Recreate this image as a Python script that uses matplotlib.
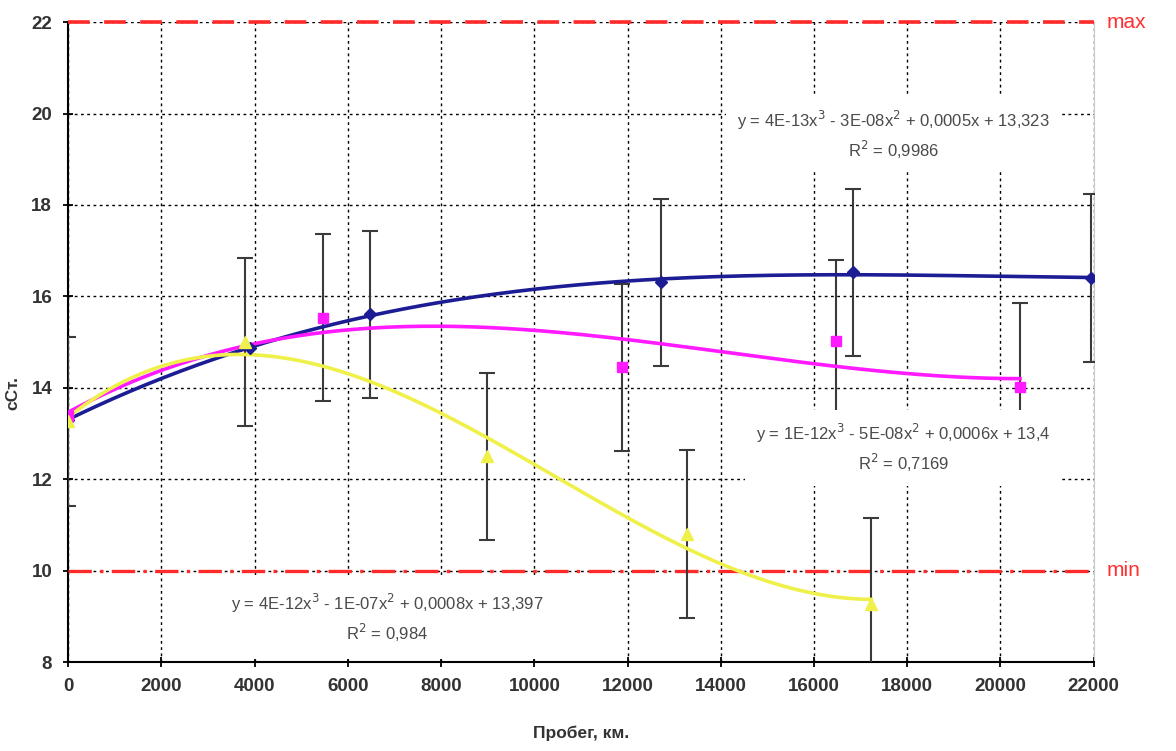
import matplotlib
matplotlib.use("Agg")
import matplotlib.pyplot as plt
import numpy as np

plt.rcParams['font.family'] = ['Liberation Sans', 'DejaVu Sans']

# blue series (diamonds)
blue_x = [0, 3900, 6465, 12720, 16830, 21950]
blue_y = [13.3, 14.88, 15.61, 16.31, 16.53, 16.40]
blue_err = [0, 0, 1.83, 1.83, 1.83, 1.83]

# magenta series (squares)
mag_x = [0, 5460, 11880, 16480, 20420]
mag_y = [13.38, 15.53, 14.45, 15.03, 14.02]
mag_err = [0, 1.83, 1.83, 1.77, 1.83]

# yellow series (triangles)
yel_x = [0, 3800, 8980, 13280, 17230]
yel_y = [13.27, 15.0, 12.5, 10.8, 9.28]
yel_err = [1.85, 1.83, 1.83, 1.83, 1.88]

max_level = 22
min_level = 10

eq_blue = "y = 4E-13x$^3$ - 3E-08x$^2$ + 0,0005x + 13,323\nR$^2$ = 0,9986"
eq_mag = "y = 1E-12x$^3$ - 5E-08x$^2$ + 0,0006x + 13,4\nR$^2$ = 0,7169"
eq_yel = "y = 4E-12x$^3$ - 1E-07x$^2$ + 0,0008x + 13,397\nR$^2$ = 0,984"

fig = plt.figure(figsize=(11.76, 7.51), dpi=100)
ax = fig.add_axes([0.058, 0.1185, 0.872, 0.852])

ax.set_xlim(0, 22000)
ax.set_ylim(8, 22)
ax.set_xticks(range(0, 22001, 2000))
ax.set_yticks(range(8, 23, 2))
ax.grid(True, color='black', linestyle=(0, (2, 2.5)), linewidth=1.0, zorder=0)
ax.set_axisbelow(True)

ax.spines['top'].set_visible(False)
ax.spines['right'].set_color('#c8c8c8')
ax.spines['left'].set_linewidth(1.5)
ax.spines['bottom'].set_linewidth(1.5)
ax.tick_params(axis='both', direction='inout', length=7, width=1.3,
               labelsize=13.5, colors='black', labelcolor='#333333', pad=8)
for lbl in ax.get_xticklabels() + ax.get_yticklabels():
    lbl.set_fontweight('bold')

# limit lines
ax.axhline(max_level, color='#ff2a2a', lw=2.6, linestyle=(0, (6, 4)), zorder=3, clip_on=False)
ax.axhline(min_level, color='#ff2a2a', lw=2.4, linestyle=(0, (7, 2.5, 1, 2.5)), zorder=3)
ax.text(1.013, max_level, 'max', transform=ax.get_yaxis_transform(), color='#ff3030',
        fontsize=15, va='center', ha='left')
ax.text(1.013, min_level, 'min', transform=ax.get_yaxis_transform(), color='#ff3030',
        fontsize=15, va='center', ha='left')

series = [
    (blue_x, blue_y, blue_err, '#1c1c95', 'D', 6),
    (mag_x, mag_y, mag_err, '#ff1aff', 's', 7),
    (yel_x, yel_y, yel_err, '#f0f04a', '^', 8),
]

for xs, ys, errs, color, marker, ms in series:
    xs = np.array(xs, dtype=float)
    ys = np.array(ys, dtype=float)
    errs = np.array(errs, dtype=float)
    m = errs > 0
    ax.errorbar(xs[m], ys[m], yerr=errs[m], fmt='none', ecolor='#3a3a3a',
                elinewidth=1.5, capsize=6, capthick=1.5, zorder=4)
    # cubic trendline
    coef = np.polyfit(xs, ys, 3)
    xx = np.linspace(xs.min(), xs.max(), 300)
    ax.plot(xx, np.polyval(coef, xx), color=color, lw=2.6, zorder=5)
    ax.plot(xs, ys, linestyle='none', marker=marker, ms=ms, color=color, zorder=6)

box = dict(facecolor='white', edgecolor='none', boxstyle='square,pad=0.7')
ax.text(17710, 19.53, eq_blue, ha='center', va='center', fontsize=12, color='#4a4a4a',
        linespacing=1.35, bbox=box, zorder=7)
ax.text(17920, 12.68, eq_mag, ha='center', va='center', fontsize=12, color='#4a4a4a',
        linespacing=1.35, bbox=box, zorder=7)
ax.text(6850, 8.96, eq_yel, ha='center', va='center', fontsize=12, color='#4a4a4a',
        linespacing=1.35, bbox=dict(facecolor='white', edgecolor='none',
                                    boxstyle='square,pad=0.9'), zorder=7)

ax.set_xlabel('Пробег, км.', fontsize=12.5, fontweight='bold', color='#333333', labelpad=22)
ax.set_ylabel('сСт.', fontsize=12.5, fontweight='bold', color='#333333')
ax.yaxis.set_label_coords(-0.047, 0.42)

fig.savefig('out.png', dpi=100)
